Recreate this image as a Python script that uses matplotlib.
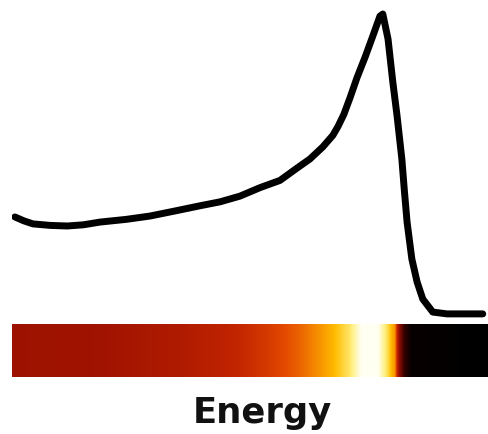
import numpy as np
import matplotlib
matplotlib.use("Agg")
import matplotlib.pyplot as plt
from matplotlib.colors import LinearSegmentedColormap

# Spectrum: normalised energy vs. normalised intensity
energy = [0.006, 0.025, 0.044, 0.080, 0.116, 0.150, 0.185, 0.240, 0.290, 0.340,
          0.395, 0.437, 0.479, 0.521, 0.563, 0.599, 0.626, 0.653, 0.674, 0.685,
          0.697, 0.710, 0.725, 0.742, 0.758, 0.773, 0.779, 0.790, 0.800, 0.809,
          0.819, 0.824, 0.830, 0.840, 0.851, 0.863, 0.884, 0.914, 0.950, 0.989]
intensity = [0.328, 0.315, 0.305, 0.300, 0.298, 0.302, 0.311, 0.320, 0.331, 0.347,
             0.365, 0.378, 0.397, 0.425, 0.449, 0.490, 0.520, 0.560, 0.598, 0.628,
             0.667, 0.722, 0.790, 0.858, 0.927, 0.993, 1.000, 0.917, 0.775, 0.662,
             0.520, 0.421, 0.311, 0.189, 0.113, 0.056, 0.013, 0.007, 0.007, 0.007]

# Colour strip: level sampled along the energy axis
strip_pos = [0.000, 0.185, 0.353, 0.458, 0.542, 0.605, 0.647, 0.679, 0.710,
             0.735, 0.769, 0.790, 0.805, 0.813, 0.826, 0.840, 1.000]
strip_level = [0.35, 0.36, 0.42, 0.48, 0.56, 0.64, 0.72, 0.80, 0.88,
               1.00, 1.00, 0.86, 0.72, 0.35, 0.12, 0.02, 0.00]

hot_cmap = LinearSegmentedColormap.from_list(
    "strip",
    [(0.00, "#000000"), (0.15, "#3a0000"), (0.35, "#9e1200"), (0.50, "#c42600"),
     (0.60, "#e44a00"), (0.70, "#f58800"), (0.80, "#ffbc00"), (0.90, "#fff080"),
     (1.00, "#fffff2")])

W, H = 489, 435
fig = plt.figure(figsize=(W / 100, H / 100), dpi=100)
fig.patch.set_facecolor("white")

left, width = 12 / W, 476 / W

# Curve
ax = fig.add_axes([left, (H - 330) / H, width, 330 / H])
ax.plot(energy, intensity, color="black", lw=5.0, solid_capstyle="round",
        solid_joinstyle="round")
ax.set_xlim(0, 1)
ax.set_ylim((317 - 330) / 302, 317 / 302)
ax.axis("off")

# Colour strip
bax = fig.add_axes([left, (H - 378) / H, width, 53 / H])
xs = np.linspace(0, 1, 600)
row = np.interp(xs, strip_pos, strip_level)
bax.imshow(row[np.newaxis, :], aspect="auto", cmap=hot_cmap, vmin=0, vmax=1,
           extent=[0, 1, 0, 1], interpolation="bilinear")
bax.set_xlim(0, 1)
bax.set_ylim(0, 1)
bax.axis("off")

fig.text(262 / W, 1 - 423 / H, "Energy", ha="center", va="baseline",
         fontsize=25.5, fontweight="bold", family="DejaVu Sans", color="#111111")

fig.savefig("out.png", dpi=100, facecolor="white")
